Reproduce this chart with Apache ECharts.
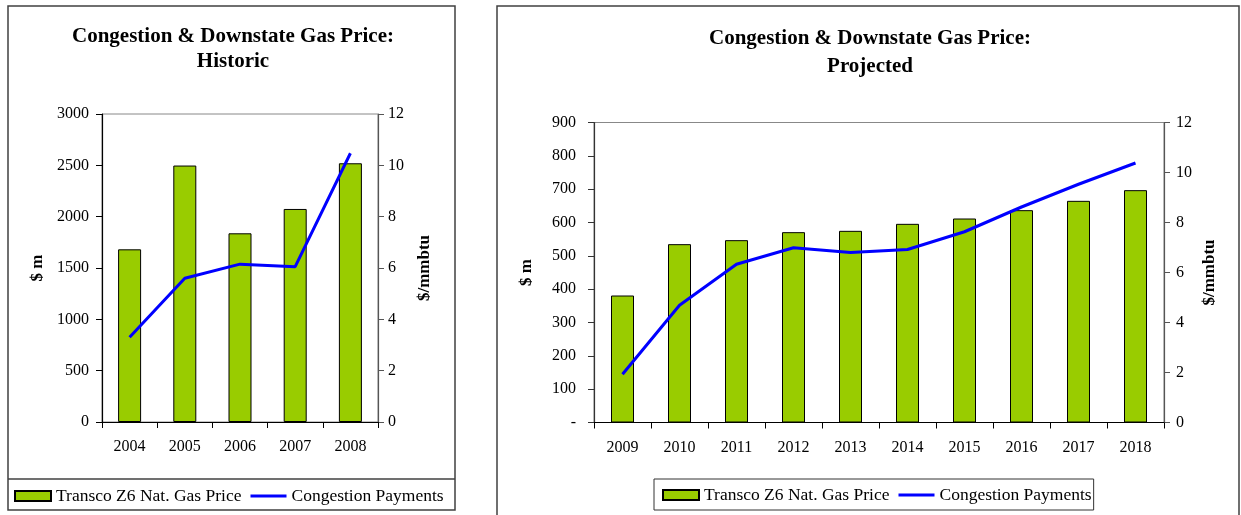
<!DOCTYPE html>
<html><head><meta charset="utf-8">
<script src="https://cdn.jsdelivr.net/npm/echarts@6/dist/echarts.min.js"></script>
<style>html,body{margin:0;padding:0;background:#fff}#c{width:1241px;height:515px}</style>
</head><body><div id="c"></div>
<script>
// ---- data ----
const histYears = ['2004', '2005', '2006', '2007', '2008'];
const histBars = [1682, 2498, 1838, 2075, 2520];
const histLine = [3.3, 5.6, 6.15, 6.05, 10.47];

const projYears = ['2009', '2010', '2011', '2012', '2013', '2014', '2015', '2016', '2017', '2018'];
const projBars = [381, 535, 547, 571, 575, 596, 612, 637, 665, 697];
const projLine = [1.93, 4.69, 6.33, 6.99, 6.8, 6.92, 7.63, 8.62, 9.53, 10.38];

const barName = 'Transco Z6 Nat. Gas Price';
const lineName = 'Congestion Payments';
const titleMain = 'Congestion & Downstate Gas Price:';
const titleHist = 'Historic';
const titleProj = 'Projected';
const leftAxisName = '$ m';
const rightAxisName = '$/mmbtu';

// ---- styles ----
const FONT = "'Liberation Serif', 'Times New Roman', serif";
const BAR_COLOR = '#99CC00';
const LINE_COLOR = '#0000FF';

const chart = echarts.init(document.getElementById('c'), null, {renderer: 'canvas'});

function plain(v) { return String(v); }

function catAxis(gi, data) {
  return {
    type: 'category', gridIndex: gi, data: data, boundaryGap: true,
    axisLine: {lineStyle: {color: '#000', width: 1.2}},
    axisTick: {show: true, inside: false, length: 6, lineStyle: {color: '#000'}},
    axisLabel: {color: '#000', fontFamily: FONT, fontSize: 16, margin: 17},
    splitLine: {show: false}
  };
}
function valAxis(gi, pos, min, max, interval, nameGap, labelMargin, fmt, lineColor) {
  return {
    type: 'value', gridIndex: gi, position: pos, min: min, max: max, interval: interval,
    name: pos === 'left' ? leftAxisName : rightAxisName,
    nameLocation: 'middle', nameRotate: 90, nameGap: nameGap,
    nameTextStyle: {color: '#000', fontFamily: FONT, fontSize: 17, fontWeight: 'bold'},
    axisLine: {show: true, lineStyle: {color: lineColor, width: 1.2}},
    axisTick: {show: true, inside: false, length: 6, lineStyle: {color: lineColor}},
    axisLabel: {color: '#000', fontFamily: FONT, fontSize: 16, margin: labelMargin, formatter: fmt},
    splitLine: {show: false}
  };
}

const lineIcon = 'path://M0,0 H36 V3 H0 Z';
function legendData() {
  return [{name: barName, icon: 'rect'}, {name: lineName, icon: lineIcon}];
}

const option = {
  animation: false,
  backgroundColor: '#fff',
  title: [
    {text: titleMain + '\n' + titleHist, left: 228, top: 19, textAlign: 'center',
     textStyle: {fontFamily: FONT, fontSize: 21, fontWeight: 'bold', color: '#000', lineHeight: 25}},
    {text: titleMain + '\n' + titleProj, left: 865, top: 20, textAlign: 'center',
     textStyle: {fontFamily: FONT, fontSize: 21, fontWeight: 'bold', color: '#000', lineHeight: 28}}
  ],
  grid: [
    {left: 102, top: 114, width: 276, height: 308, show: true, borderColor: '#888', borderWidth: 1, backgroundColor: 'transparent'},
    {left: 594, top: 122.5, width: 570, height: 300, show: true, borderColor: '#888', borderWidth: 1, backgroundColor: 'transparent'}
  ],
  xAxis: [catAxis(0, histYears), catAxis(1, projYears)],
  yAxis: [
    valAxis(0, 'left', 0, 3000, 500, 56, 13, plain, '#000'),
    valAxis(0, 'right', 0, 12, 2, 38, 10, plain, '#555'),
    valAxis(1, 'left', 0, 900, 100, 59, 18, function (v) { return v === 0 ? '-' : String(v); }, '#333'),
    valAxis(1, 'right', 0, 12, 2, 37, 12, plain, '#555')
  ],
  legend: [
    {left: 14, top: 487, padding: 0, itemWidth: 36, itemHeight: 10, itemGap: 9,
     textStyle: {fontFamily: FONT, fontSize: 17.5, color: '#000'},
     data: legendData()},
    {left: 654, top: 479, padding: [7, 2, 6, 8], itemWidth: 36, itemHeight: 10, itemGap: 9,
     borderColor: '#333', borderWidth: 1,
     textStyle: {fontFamily: FONT, fontSize: 17.5, color: '#000'},
     data: legendData()}
  ],
  graphic: [
    {type: 'rect', shape: {x: 8, y: 6, width: 447, height: 504}, style: {fill: 'none', stroke: '#404040', lineWidth: 1.5}, z: 100},
    {type: 'line', shape: {x1: 8, y1: 479, x2: 455, y2: 479}, style: {stroke: '#404040', lineWidth: 1.5}, z: 100},
    {type: 'rect', shape: {x: 497, y: 6, width: 742, height: 530}, style: {fill: 'none', stroke: '#404040', lineWidth: 1.5}, z: 100}
  ],
  series: [
    {name: barName, type: 'bar', xAxisIndex: 0, yAxisIndex: 0, data: histBars, barWidth: 23,
     itemStyle: {color: BAR_COLOR, borderColor: '#000', borderWidth: 1}},
    {name: lineName, type: 'line', xAxisIndex: 0, yAxisIndex: 1, data: histLine, symbol: 'none',
     lineStyle: {color: LINE_COLOR, width: 3}, itemStyle: {color: LINE_COLOR}},
    {name: barName, type: 'bar', xAxisIndex: 1, yAxisIndex: 2, data: projBars, barWidth: 23,
     itemStyle: {color: BAR_COLOR, borderColor: '#000', borderWidth: 1}},
    {name: lineName, type: 'line', xAxisIndex: 1, yAxisIndex: 3, data: projLine, symbol: 'none',
     lineStyle: {color: LINE_COLOR, width: 3}, itemStyle: {color: LINE_COLOR}}
  ]
};
chart.setOption(option);
</script></body></html>
